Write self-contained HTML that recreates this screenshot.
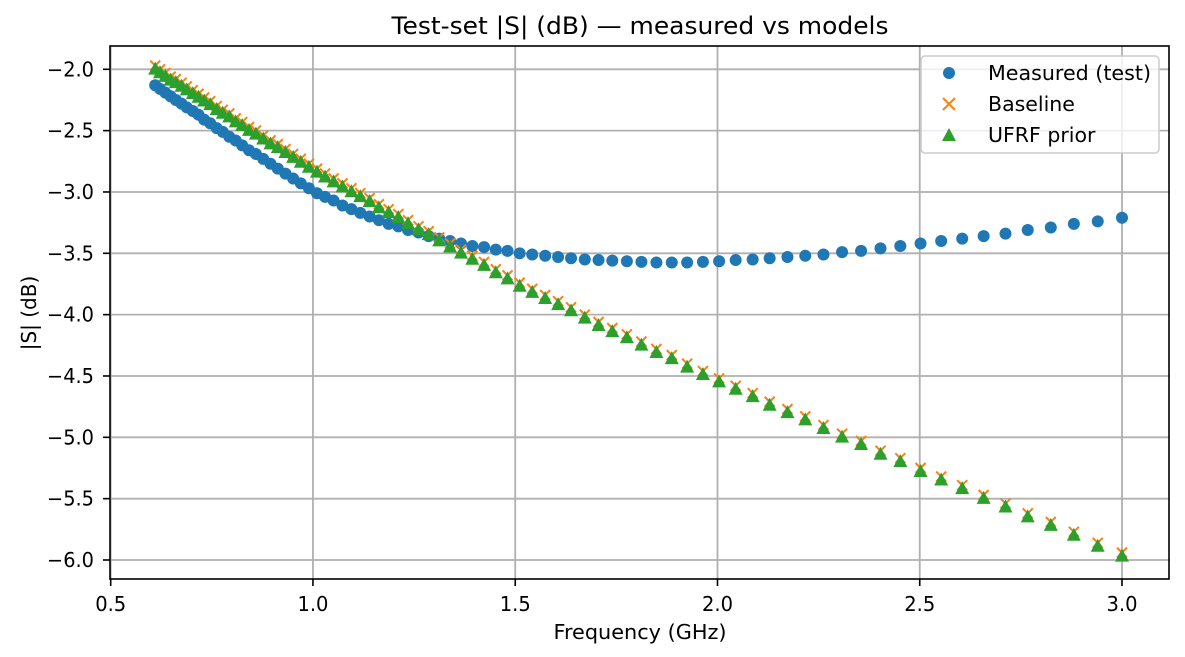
<!DOCTYPE html>
<html><head><meta charset="utf-8"><style>
html,body{margin:0;padding:0;background:#fff}
svg{display:block}
text{font-family:"DejaVu Sans","Liberation Sans",sans-serif;fill:#000}
</style></head><body>
<svg id="chart" width="1185" height="657" viewBox="0 0 1185 657" xmlns="http://www.w3.org/2000/svg">
<rect x="0" y="0" width="1185" height="657" fill="#fff"/>
<g id="grid"></g>
<g id="marks"></g>
<g id="axes"></g>
<text x="640" y="34" font-size="24px" text-anchor="middle" textLength="497" lengthAdjust="spacingAndGlyphs">Test-set |S| (dB) — measured vs models</text>
<text x="640" y="639" font-size="20px" text-anchor="middle" textLength="173" lengthAdjust="spacingAndGlyphs">Frequency (GHz)</text>
<text x="0" y="0" font-size="20px" text-anchor="middle" transform="translate(36,313) rotate(-90)">|S| (dB)</text>
<g>
<rect x="921" y="56" width="238" height="97" rx="4" fill="#fff" fill-opacity="0.8" stroke="#cccccc" stroke-width="1.5"/>
<circle cx="949" cy="73" r="6" fill="#1f77b4"/>
<text x="988" y="80" font-size="20.5px" textLength="163" lengthAdjust="spacingAndGlyphs">Measured (test)</text>
<path d="M943,98 L955,110 M955,98 L943,110" stroke="#ff7f0e" stroke-width="2"/>
<text x="988" y="111" font-size="20.5px">Baseline</text>
<path d="M949,128 L956,141 L942,141 Z" fill="#2ca02c"/>
<text x="988" y="142" font-size="20.5px">UFRF prior</text>
</g>
</svg>
<script>
const freqGHz=[0.610,0.622,0.635,0.648,0.661,0.675,0.688,0.703,0.717,0.731,0.746,0.762,0.777,0.793,0.809,0.825,0.842,0.859,0.877,0.895,0.913,0.932,0.951,0.970,0.990,1.010,1.030,1.051,1.073,1.095,1.117,1.140,1.163,1.187,1.211,1.235,1.261,1.286,1.312,1.339,1.366,1.394,1.423,1.452,1.481,1.511,1.542,1.574,1.606,1.638,1.672,1.706,1.740,1.776,1.812,1.849,1.887,1.925,1.964,2.004,2.045,2.087,2.129,2.173,2.217,2.262,2.308,2.355,2.403,2.452,2.502,2.553,2.605,2.658,2.712,2.767,2.824,2.881,2.940,3.000];
const measuredDb=[-2.13,-2.16,-2.19,-2.22,-2.25,-2.28,-2.31,-2.34,-2.37,-2.41,-2.44,-2.48,-2.51,-2.55,-2.58,-2.62,-2.66,-2.69,-2.73,-2.77,-2.81,-2.85,-2.89,-2.93,-2.97,-3.01,-3.04,-3.07,-3.11,-3.14,-3.17,-3.20,-3.23,-3.26,-3.28,-3.31,-3.33,-3.36,-3.38,-3.40,-3.42,-3.44,-3.45,-3.47,-3.48,-3.50,-3.51,-3.52,-3.53,-3.54,-3.55,-3.555,-3.56,-3.565,-3.57,-3.575,-3.575,-3.575,-3.57,-3.565,-3.555,-3.55,-3.54,-3.53,-3.52,-3.51,-3.49,-3.48,-3.46,-3.44,-3.42,-3.40,-3.38,-3.36,-3.34,-3.31,-3.29,-3.26,-3.24,-3.21];
const baselineDb=[-1.97,-2.00,-2.03,-2.06,-2.08,-2.11,-2.14,-2.17,-2.20,-2.23,-2.26,-2.30,-2.33,-2.36,-2.40,-2.43,-2.47,-2.50,-2.54,-2.58,-2.61,-2.65,-2.69,-2.73,-2.77,-2.81,-2.85,-2.89,-2.93,-2.97,-3.01,-3.05,-3.10,-3.14,-3.18,-3.23,-3.28,-3.32,-3.37,-3.42,-3.47,-3.52,-3.57,-3.63,-3.68,-3.74,-3.79,-3.84,-3.89,-3.94,-4.00,-4.06,-4.11,-4.16,-4.22,-4.28,-4.33,-4.40,-4.46,-4.52,-4.58,-4.64,-4.71,-4.77,-4.83,-4.90,-4.97,-5.03,-5.11,-5.17,-5.25,-5.32,-5.39,-5.47,-5.54,-5.62,-5.69,-5.77,-5.86,-5.94];
const ufrfDb=[-1.99,-2.02,-2.05,-2.08,-2.10,-2.13,-2.16,-2.19,-2.22,-2.25,-2.28,-2.32,-2.35,-2.38,-2.42,-2.45,-2.49,-2.52,-2.56,-2.60,-2.63,-2.67,-2.71,-2.75,-2.79,-2.83,-2.87,-2.91,-2.95,-2.99,-3.03,-3.07,-3.12,-3.16,-3.20,-3.25,-3.30,-3.34,-3.39,-3.44,-3.49,-3.54,-3.59,-3.65,-3.70,-3.76,-3.81,-3.86,-3.91,-3.96,-4.02,-4.08,-4.13,-4.18,-4.24,-4.30,-4.35,-4.42,-4.48,-4.54,-4.60,-4.66,-4.73,-4.79,-4.85,-4.92,-4.99,-5.05,-5.13,-5.19,-5.27,-5.34,-5.41,-5.49,-5.56,-5.64,-5.71,-5.79,-5.88,-5.96];
const xTicks=[0.5,1.0,1.5,2.0,2.5,3.0];
const xTickLabels=["0.5","1.0","1.5","2.0","2.5","3.0"];
const yTicks=[-2.0,-2.5,-3.0,-3.5,-4.0,-4.5,-5.0,-5.5,-6.0];
const yTickLabels=["−2.0","−2.5","−3.0","−3.5","−4.0","−4.5","−5.0","−5.5","−6.0"];

const L=110,R=1169,T=46,B=579;
function xs(f){return 110.7+(f-0.5)*(1122-110.7)/2.5;}
function ys(v){return 69.3+(-2-v)*(560-69.3)/4;}
const NS="http://www.w3.org/2000/svg";
function mk(tag,attrs,parent){const e=document.createElementNS(NS,tag);for(const k in attrs)e.setAttribute(k,attrs[k]);parent.appendChild(e);return e;}
const grid=document.getElementById('grid'),marks=document.getElementById('marks'),axes=document.getElementById('axes');

xTicks.forEach((t,i)=>{
  const x=xs(t);
  const g=mk('line',{x1:x,x2:x,y1:T,y2:B,stroke:'#b0b0b0','stroke-width':1.8},grid);
  
  
  const tk=mk('line',{x1:x,x2:x,y1:B,y2:B+7,stroke:'#000','stroke-width':1.6},axes);
  
  
  const tx=mk('text',{x:x,y:611,'font-size':'20px','text-anchor':'middle',textLength:31,lengthAdjust:'spacingAndGlyphs'},axes);
  tx.textContent=xTickLabels[i];
  
  
});
yTicks.forEach((t,i)=>{
  const y=ys(t);
  const g=mk('line',{x1:L,x2:R,y1:y,y2:y,stroke:'#b0b0b0','stroke-width':1.8},grid);
  
  
  const tk=mk('line',{x1:L-7,x2:L,y1:y,y2:y,stroke:'#000','stroke-width':1.6},axes);
  
  
  const tx=mk('text',{x:47,y:y+7,'font-size':'20px','text-anchor':'start',textLength:47,lengthAdjust:'spacingAndGlyphs'},axes);
  tx.textContent=yTickLabels[i];
  
  
});
const frame=mk('rect',{x:L,y:T,width:R-L,height:B-T,fill:'none',stroke:'#000','stroke-width':1.6},axes);



freqGHz.forEach((f,i)=>{
  const c=mk('circle',{cx:xs(f),cy:ys(measuredDb[i]),r:6,fill:'#1f77b4'},marks);
  
  
});
freqGHz.forEach((f,i)=>{
  const x=xs(f),y=ys(baselineDb[i]);
  const p=mk('path',{d:`M${x-5},${y-5}L${x+5},${y+5}M${x+5},${y-5}L${x-5},${y+5}`,stroke:'#ff7f0e','stroke-width':2,fill:'none'},marks);
  
  
});
freqGHz.forEach((f,i)=>{
  const x=xs(f),y=ys(ufrfDb[i]);
  const p=mk('path',{d:`M${x},${y-6.5}L${x+7},${y+6.5}L${x-7},${y+6.5}Z`,fill:'#2ca02c'},marks);
  
  
});
</script>
</body></html>
